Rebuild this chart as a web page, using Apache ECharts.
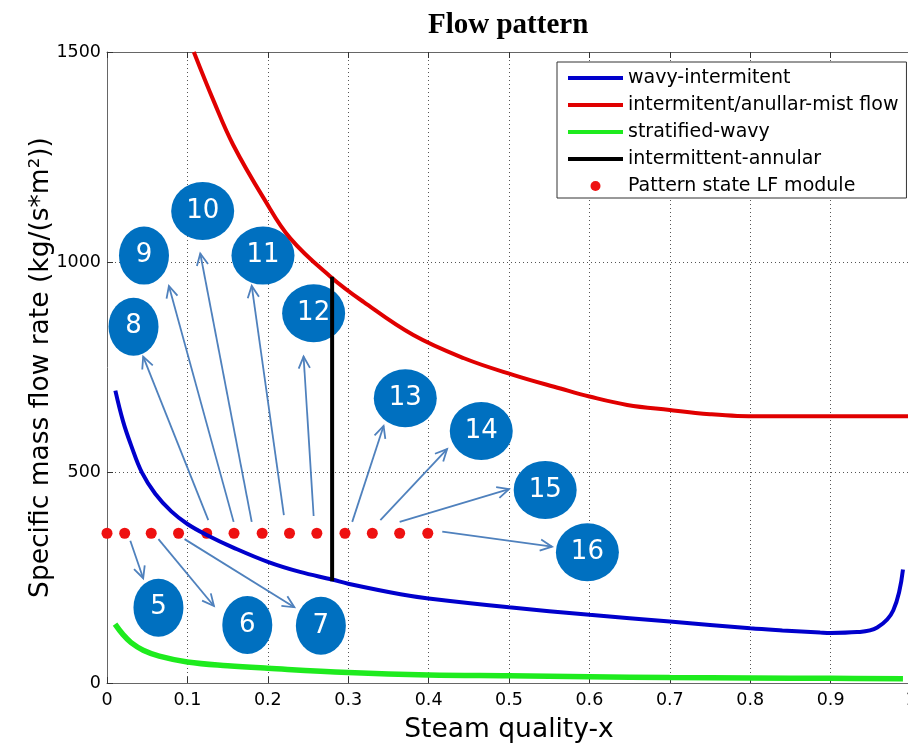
<!DOCTYPE html>
<html>
<head>
<meta charset="utf-8">
<title>Flow pattern</title>
<script src="https://cdn.jsdelivr.net/npm/echarts@6/dist/echarts.min.js"></script>
<style>
  html, body { margin: 0; padding: 0; background: #fff; }
  #chart { width: 908px; height: 747px; }
</style>
</head>
<body>
<div id="chart"></div>
<script>
// steam quality x / mass flux values
const wavyX = [0.0104, 0.020, 0.030, 0.0435, 0.060, 0.080, 0.100, 0.124, 0.157, 0.200, 0.240, 0.280, 0.300, 0.365, 0.400, 0.500, 0.600, 0.700, 0.800, 0.840, 0.887, 0.900, 0.933, 0.958, 0.978, 0.990]
const wavyY = [695, 622, 565, 500, 450, 408, 378, 352, 322, 288, 264, 246, 236, 211, 201, 180, 162, 146, 130, 125, 120, 119, 121, 132, 173, 270]

const mistX = [0.108, 0.133, 0.157, 0.195, 0.228, 0.278, 0.319, 0.381, 0.444, 0.506, 0.564, 0.600, 0.647, 0.700, 0.750, 0.784, 0.850, 1.000]
const mistY = [1500, 1382, 1279, 1152, 1057, 966, 906, 827, 772, 732, 700, 681, 661, 649, 639, 635, 634, 634]

const stratX = [0.010, 0.020, 0.030, 0.045, 0.065, 0.100, 0.150, 0.200, 0.300, 0.400, 0.500, 0.600, 0.700, 0.800, 0.900, 0.990]
const stratY = [140, 115, 96, 78, 64, 50, 41, 35, 25, 19, 17, 15, 13, 12, 11, 10]

const annularX = [0.28, 0.28]
const annularY = [242, 966]

const stateX = [0, 0.022, 0.055, 0.089, 0.124, 0.158, 0.193, 0.227, 0.261, 0.296, 0.330, 0.364, 0.399]
const stateY = [356, 356, 356, 356, 356, 356, 356, 356, 356, 356, 356, 356, 356]

// numbered bubbles and the arrows pointing at them
const bubbleLabels = ['5', '6', '7', '8', '9', '10', '11', '12', '13', '14', '15', '16']
const bubbleX = [0.064, 0.1745, 0.266, 0.033, 0.046, 0.119, 0.194, 0.257, 0.371, 0.4655, 0.545, 0.5975]
const bubbleY = [179, 138, 136, 847, 1016, 1122, 1016, 879, 677, 599, 459, 311]

const arrowFromX = [0.029, 0.064, 0.0965, 0.126, 0.1575, 0.180, 0.220, 0.257, 0.305, 0.340, 0.364, 0.417]
const arrowFromY = [338, 342, 342, 387, 383, 383, 399, 397, 383, 387, 383, 360]
const arrowToX = [0.045, 0.133, 0.233, 0.045, 0.077, 0.116, 0.180, 0.2445, 0.344, 0.423, 0.500, 0.5535]
const arrowToY = [249, 183, 180, 776, 944, 1021, 944, 776, 611, 556, 461, 324]

const xTicks = { min: 0, max: 1, interval: 0.1 }
const yTicks = { min: 0, max: 1500, interval: 500 }

const zip = (xs, ys) => xs.map((x, i) => [x, ys[i]])

const chart = echarts.init(document.getElementById('chart'))

const sans = 'DejaVu Sans'
const gridLine = { show: true, lineStyle: { color: '#555', type: [1, 3], width: 1 } }
const lineIcon = 'path://M0,0 H55 V4 H0 Z'

const renderArrow = (params, api) => {
  const p0 = api.coord([api.value(0), api.value(1)])
  const p1 = api.coord([api.value(2), api.value(3)])
  const ang = Math.atan2(p1[1] - p0[1], p1[0] - p0[0])
  const len = 13
  const spread = 0.45
  const h1 = [p1[0] - len * Math.cos(ang - spread), p1[1] - len * Math.sin(ang - spread)]
  const h2 = [p1[0] - len * Math.cos(ang + spread), p1[1] - len * Math.sin(ang + spread)]
  const style = { stroke: '#4F81BD', lineWidth: 1.8, fill: null }
  return {
    type: 'group',
    children: [
      { type: 'line', shape: { x1: p0[0], y1: p0[1], x2: p1[0], y2: p1[1] }, style },
      { type: 'polyline', shape: { points: [h1, p1, h2] }, style }
    ]
  }
}

const option = {
  animation: false,
  backgroundColor: '#fff',
  title: {
    text: 'Flow pattern',
    left: 423,
    top: 6,
    textStyle: { fontFamily: 'Liberation Serif', fontWeight: 'bold', fontSize: 29, color: '#000' }
  },
  legend: {
    orient: 'vertical',
    left: 557,
    top: 62,
    padding: [6, 8, 2, 11],
    itemWidth: 55,
    itemHeight: 10,
    itemGap: 7,
    backgroundColor: '#fff',
    borderColor: '#333',
    borderWidth: 1,
    borderRadius: 0,
    textStyle: { fontFamily: sans, fontSize: 19, lineHeight: 20, color: '#000' },
    data: [
      { name: 'wavy-intermitent', icon: lineIcon },
      { name: 'intermitent/anullar-mist flow', icon: lineIcon },
      { name: 'stratified-wavy', icon: lineIcon },
      { name: 'intermittent-annular', icon: lineIcon },
      { name: 'Pattern state LF module', icon: 'circle' }
    ]
  },
  grid: { left: 107, top: 52, width: 804, height: 631, show: false, outerBoundsMode: 'none', containLabel: false },
  xAxis: [
    {
      type: 'value',
      ...xTicks,
      position: 'bottom',
      name: 'Steam quality-x',
      nameLocation: 'middle',
      nameGap: 34,
      nameTextStyle: { fontFamily: sans, fontSize: 26.5, color: '#000' },
      axisLine: { lineStyle: { color: '#666', width: 1 } },
      axisTick: { inside: true, length: 6, lineStyle: { color: '#333' } },
      axisLabel: { fontFamily: sans, fontSize: 17.5, color: '#000', margin: 8, hideOverlap: false },
      splitLine: gridLine
    },
    {
      type: 'value',
      ...xTicks,
      position: 'top',
      axisLine: { show: true, lineStyle: { color: '#666', width: 1 } },
      axisTick: { show: true, inside: true, length: 6, lineStyle: { color: '#333' } },
      axisLabel: { show: false },
      splitLine: { show: false }
    }
  ],
  yAxis: {
    type: 'value',
    ...yTicks,
    name: 'Specific mass flow rate (kg/(s*m²))',
    nameLocation: 'middle',
    nameGap: 52,
    nameMoveOverlap: false,
    nameTextStyle: { fontFamily: sans, fontSize: 26.5, color: '#000' },
    axisLine: { show: true, lineStyle: { color: '#666', width: 1 } },
    axisTick: { show: true, inside: true, length: 6, lineStyle: { color: '#333' } },
    axisLabel: { fontFamily: sans, fontSize: 17.5, color: '#000', margin: 6, formatter: v => String(v) },
    splitLine: gridLine
  },
  series: [
    {
      name: 'stratified-wavy',
      type: 'line',
      data: zip(stratX, stratY),
      symbol: 'none',
      smooth: 0.4,
      lineStyle: { color: '#1EEB1E', width: 5.5 },
      itemStyle: { color: '#1EEB1E' }
    },
    {
      name: 'wavy-intermitent',
      type: 'line',
      data: zip(wavyX, wavyY),
      symbol: 'none',
      smooth: 0.4,
      lineStyle: { color: '#0000CC', width: 4 },
      itemStyle: { color: '#0000CC' }
    },
    {
      name: 'intermitent/anullar-mist flow',
      type: 'line',
      data: zip(mistX, mistY),
      symbol: 'none',
      smooth: 0.4,
      lineStyle: { color: '#E00000', width: 4 },
      itemStyle: { color: '#E00000' }
    },
    {
      name: 'intermittent-annular',
      type: 'line',
      data: zip(annularX, annularY),
      symbol: 'none',
      lineStyle: { color: '#000', width: 4 },
      itemStyle: { color: '#000' }
    },
    {
      name: 'Pattern state LF module',
      type: 'scatter',
      data: zip(stateX, stateY),
      symbol: 'circle',
      symbolSize: 11,
      clip: false,
      itemStyle: { color: '#EE1111', opacity: 1 }
    },
    {
      name: 'arrows',
      type: 'custom',
      renderItem: renderArrow,
      data: arrowFromX.map((x, i) => [x, arrowFromY[i], arrowToX[i], arrowToY[i]]),
      encode: { x: [0, 2], y: [1, 3] },
      clip: false,
      silent: true
    },
    {
      name: 'bubbles',
      type: 'scatter',
      data: bubbleX.map((x, i) => [x, bubbleY[i], bubbleLabels[i]]),
      symbol: 'circle',
      symbolSize: v => (v[2].length > 1 ? [63, 58] : [50, 58]),
      itemStyle: { color: '#0070C0', opacity: 1 },
      label: {
        show: true,
        position: 'inside',
        formatter: p => p.value[2],
        fontFamily: sans,
        fontSize: 26,
        color: '#fff'
      },
      silent: true
    }
  ]
}

chart.setOption(option)
</script>
</body>
</html>
